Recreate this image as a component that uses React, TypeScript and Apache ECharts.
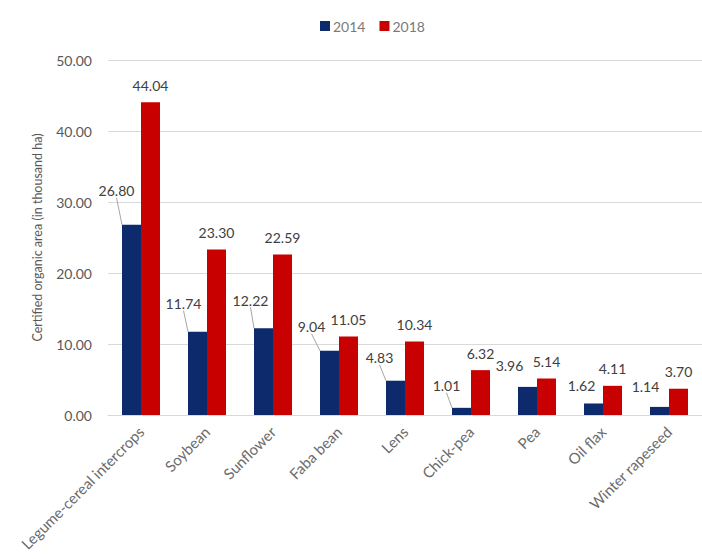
import React, { useEffect, useRef } from "react";
import * as echarts from "echarts";

const categories = [
  "Legume-cereal intercrops",
  "Soybean",
  "Sunflower",
  "Faba bean",
  "Lens",
  "Chick-pea",
  "Pea",
  "Oil flax",
  "Winter rapeseed",
];
const values2014 = [26.8, 11.74, 12.22, 9.04, 4.83, 1.01, 3.96, 1.62, 1.14];
const values2018 = [44.04, 23.3, 22.59, 11.05, 10.34, 6.32, 5.14, 4.11, 3.7];
const yTicks = [0, 10, 20, 30, 40, 50];

// label displacement for 2014 labels (dx, dy) and whether a leader line is drawn
const offsets2014: [number, number][] = [
  [-15, -22],
  [-14, -16],
  [-13, -16],
  [-18, -12],
  [-16, -11],
  [-15, -10],
  [-18, -9],
  [-12, -6],
  [-14, -8],
];
const leader2014 = [true, true, true, true, true, true, false, false, false];

const FONT = "Lato, 'Open Sans', sans-serif";

export default function App() {
  const ref = useRef<HTMLDivElement>(null);
  useEffect(() => {
    if (!ref.current) return;
    const chart = echarts.init(ref.current, undefined, { renderer: "svg" });
    chart.setOption({
      animation: false,
      textStyle: { fontFamily: FONT },
      legend: {
        top: 14,
        left: 315,
        itemWidth: 10,
        itemHeight: 10,
        itemGap: 14,
        icon: "rect",
        textStyle: { fontSize: 14, color: "#7a7a7a", fontFamily: FONT, padding: [0, 0, 0, -2] },
        data: ["2014", "2018"],
      },
      grid: { left: 108, right: -6, top: 60, bottom: 144 },
      xAxis: {
        type: "category",
        data: categories,
        axisTick: { show: false },
        axisLine: { lineStyle: { color: "#d9d9d9", width: 1 } },
        axisLabel: {
          rotate: 45,
          fontSize: 15,
          color: "#6b6b6b",
          margin: 14,
          interval: 0,
          fontFamily: FONT,
        },
      },
      yAxis: {
        type: "value",
        min: yTicks[0],
        max: yTicks[yTicks.length - 1],
        interval: 10,
        name: "Certified organic area (in thousand ha)",
        nameLocation: "middle",
        nameGap: 64,
        nameTextStyle: { fontSize: 12.5, color: "#595959", fontFamily: FONT },
        axisLine: { show: false },
        axisTick: { show: false },
        axisLabel: {
          fontSize: 14,
          color: "#595959",
          margin: 16,
          formatter: (v: number) => v.toFixed(2),
          fontFamily: FONT,
        },
        splitLine: { lineStyle: { color: "#d9d9d9", width: 1 } },
      },
      series: [
        {
          name: "2014",
          type: "bar",
          barWidth: 19,
          barGap: "0%",
          itemStyle: { color: "#0c2a6c" },
          data: values2014.map((v, i) => ({
            value: v,
            labelLine: { show: leader2014[i] },
          })),
          label: {
            show: true,
            position: "top",
            distance: 5,
            fontSize: 14,
            color: "#404040",
            formatter: (p: any) => p.value.toFixed(2),
            fontFamily: FONT,
          },
          labelLine: {
            show: true,
            lineStyle: { color: "#a6a6a6", width: 1 },
          },
          labelLayout: (p: any) => ({
            dx: offsets2014[p.dataIndex][0],
            dy: offsets2014[p.dataIndex][1],
          }),
        },
        {
          name: "2018",
          type: "bar",
          barWidth: 19,
          barGap: "0%",
          itemStyle: { color: "#c90000" },
          data: values2018,
          label: {
            show: true,
            position: "top",
            distance: 10,
            fontSize: 14,
            color: "#404040",
            formatter: (p: any) => p.value.toFixed(2),
            fontFamily: FONT,
          },
        },
      ],
    });
    return () => chart.dispose();
  }, []);
  return (
    <div
      ref={ref}
      style={{ position: "absolute", left: 0, top: 0, width: 702, height: 559, background: "#fff" }}
    />
  );
}
